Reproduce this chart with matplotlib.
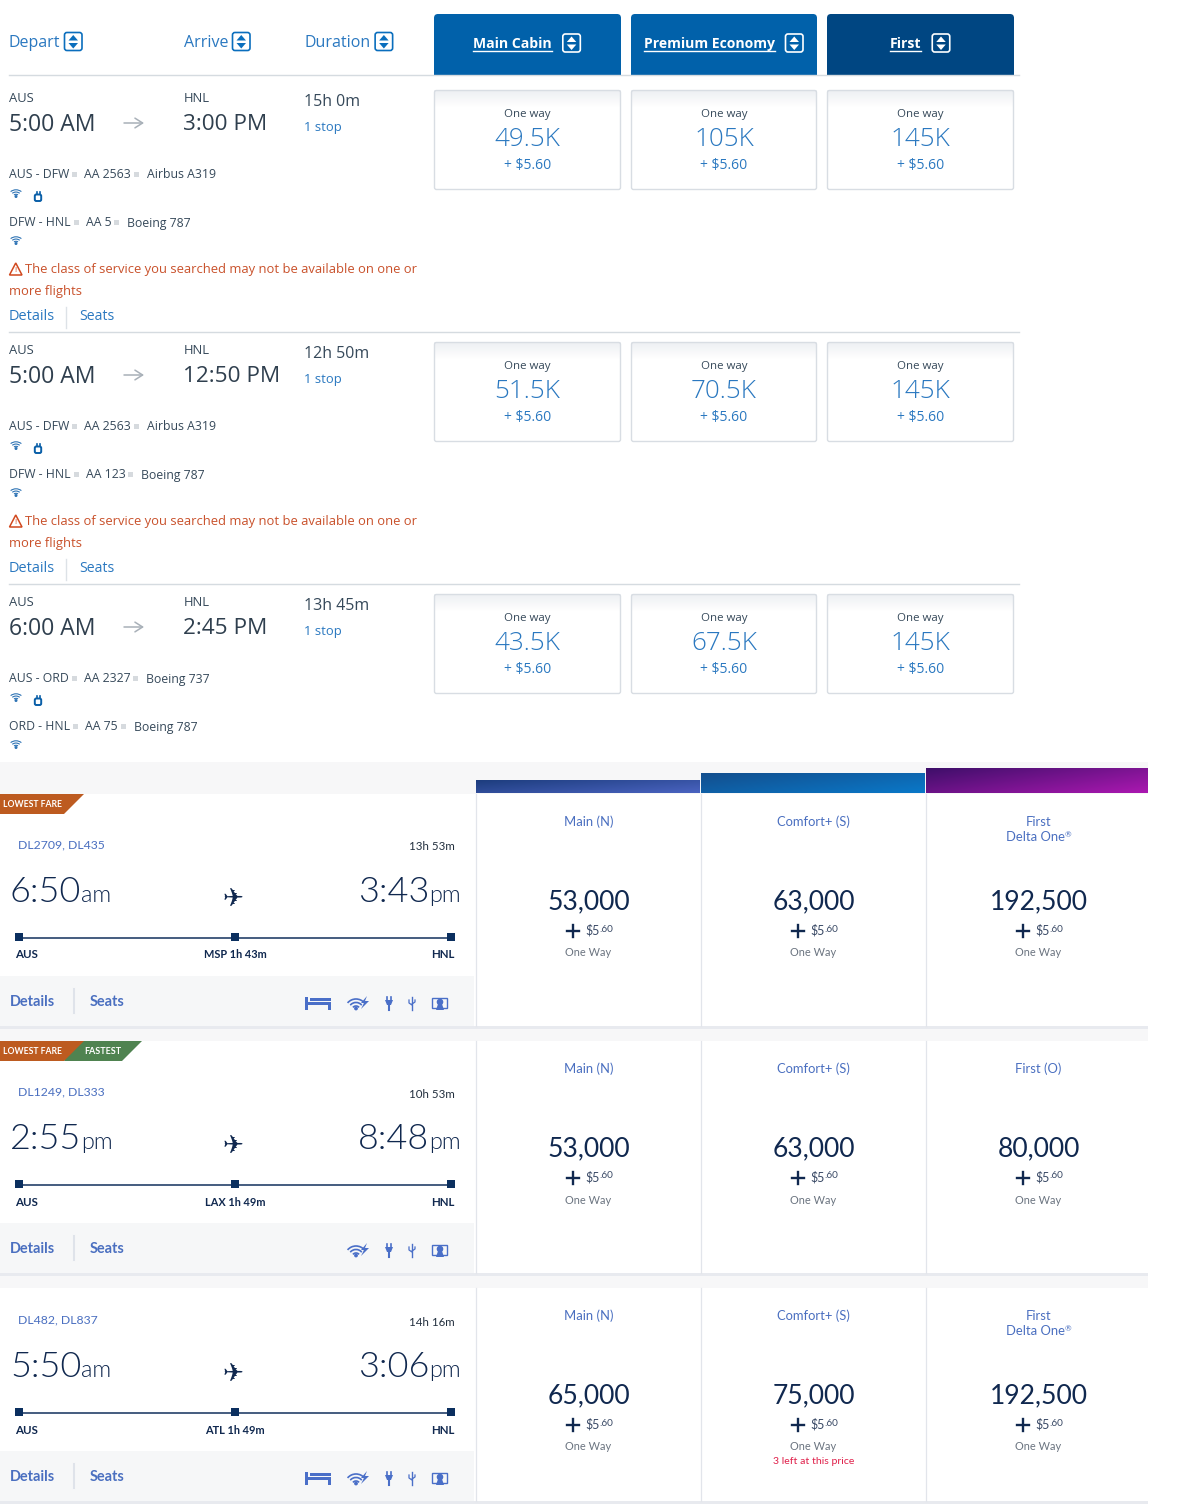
from matplotlib.patches import Rectangle, FancyBboxPatch, Polygon, Arc, Circle
import numpy as np
import matplotlib
matplotlib.use("Agg")
import matplotlib.pyplot as plt

W, H = 1190, 1512

# American section
AA_HEADERS = ["Depart", "Arrive", "Duration"]
AA_CABINS = ["Main Cabin", "Premium Economy", "First"]
AA_ORIGIN = ["AUS", "AUS", "AUS"]
AA_DEST = ["HNL", "HNL", "HNL"]
AA_DEPART = ["5:00 AM", "5:00 AM", "6:00 AM"]
AA_ARRIVE = ["3:00 PM", "12:50 PM", "2:45 PM"]
AA_DURATION = ["15h 0m", "12h 50m", "13h 45m"]
AA_STOPS = ["1 stop", "1 stop", "1 stop"]
AA_LEG1 = [
    ["AUS - DFW", "AA 2563", "Airbus A319"],
    ["AUS - DFW", "AA 2563", "Airbus A319"],
    ["AUS - ORD", "AA 2327", "Boeing 737"],
]
AA_LEG2 = [
    ["DFW - HNL", "AA 5", "Boeing 787"],
    ["DFW - HNL", "AA 123", "Boeing 787"],
    ["ORD - HNL", "AA 75", "Boeing 787"],
]
AA_MILES = [["49.5K", "105K", "145K"], ["51.5K", "70.5K", "145K"], ["43.5K", "67.5K", "145K"]]
AA_FEE = "+ $5.60"
AA_WARNING = ["The class of service you searched may not be available on one or", "more flights"]
AA_HAS_WARNING = [True, True, False]

# Delta section
DL_FLIGHTS = ["DL2709, DL435", "DL1249, DL333", "DL482, DL837"]
DL_DURATION = ["13h 53m", "10h 53m", "14h 16m"]
DL_DEPART = [("6:50", "am"), ("2:55", "pm"), ("5:50", "am")]
DL_ARRIVE = [("3:43", "pm"), ("8:48", "pm"), ("3:06", "pm")]
DL_STOP = ["MSP 1h 43m", "LAX 1h 49m", "ATL 1h 49m"]
DL_HAS_BED = [True, False, True]
DL_BADGES = [["LOWEST FARE"], ["LOWEST FARE", "FASTEST"], []]
DL_CABIN = [
    ["Main (N)", "Comfort+ (S)", "First\nDelta One®"],
    ["Main (N)", "Comfort+ (S)", "First (O)"],
    ["Main (N)", "Comfort+ (S)", "First\nDelta One®"],
]
DL_MILES = [
    ["53,000", "63,000", "192,500"],
    ["53,000", "63,000", "80,000"],
    ["65,000", "75,000", "192,500"],
]

AA_FONT = "Open Sans"
DL_FONT = "Lato"
BLUE = "#0a6ebd"
GREY_TXT = "#36495a"
DL_NAVY = "#10284f"
DL_BLUE = "#4a6fc0"

fig = plt.figure(figsize=(W / 100, H / 100), dpi=100)
ax = fig.add_axes([0, 0, 1, 1])
renderer = fig.canvas.get_renderer()


def txt(x, y, s, px, color=GREY_TXT, font=AA_FONT, ha="left", va="center", **kw):
    return ax.text(x, y, s, fontsize=px * 0.72, color=color, family=font, ha=ha, va=va, **kw)


def extent(t):
    bb = t.get_window_extent(renderer)
    return bb.x0, bb.x1


def rect(x, y, w, h, color, z=1):
    ax.add_patch(Rectangle((x, y), w, h, facecolor=color, edgecolor="none", zorder=z))


def gradient(x0, x1, y0, y1, c0, c1, z=2, diagonal=True):
    gx, gy = np.meshgrid(np.linspace(0, 1, 64), np.linspace(0, 1, 16))
    t = (0.6 * gx + 0.4 * gy)[..., None] if diagonal else gy[..., None]
    c0 = np.array(matplotlib.colors.to_rgb(c0))
    c1 = np.array(matplotlib.colors.to_rgb(c1))
    ax.imshow(c0 + (c1 - c0) * t, extent=(x0, x1, y1, y0), aspect="auto", zorder=z, interpolation="bilinear")


def sort_icon(x, y, edge, fill):
    ax.add_patch(FancyBboxPatch((x + 1, y + 1), 17.5, 18, boxstyle="round,pad=0,rounding_size=2.5",
                                facecolor=fill, edgecolor=edge, linewidth=1.2, zorder=4))
    ax.add_patch(Polygon([(x + 5, y + 9), (x + 14.5, y + 9), (x + 9.75, y + 3.5)], color=edge, zorder=5, lw=0))
    ax.add_patch(Polygon([(x + 5, y + 11.5), (x + 14.5, y + 11.5), (x + 9.75, y + 17)], color=edge, zorder=5, lw=0))


def wifi(x, y, color="#2f74b5"):
    for d in (16, 11, 6):
        ax.add_patch(Arc((x, y + 7), d, d * 0.9, theta1=225, theta2=315, color=color, lw=0.8, zorder=4))
    ax.add_patch(Circle((x, y + 6.5), 0.8, color=color, zorder=4))


def plug(x, y, color="#0a5fa8"):
    ax.add_patch(FancyBboxPatch((x - 3.2, y - 2.5), 6.4, 6.5, boxstyle="round,pad=0,rounding_size=1.5",
                                facecolor="white", edgecolor=color, linewidth=1.4, zorder=4))
    ax.plot([x - 1.5, x - 1.5], [y - 5, y - 3], color=color, lw=1.2, zorder=4)
    ax.plot([x + 1.5, x + 1.5], [y - 5, y - 3], color=color, lw=1.2, zorder=4)


def leg_line(y, parts):
    x = 9
    for i, part in enumerate(parts):
        t = txt(x, y + 4.5, part, 12.3, GREY_TXT, va="baseline")
        x1 = extent(t)[1]
        if i < len(parts) - 1:
            rect(x1 + 3, y - 2, 5, 5, "#d6dade")
            x = x1 + 15 + i


def draw_aa():
    for label, x in zip(AA_HEADERS, (9, 184, 305)):
        t = txt(x, 43, label, 16, "#2a78c0")
        sort_icon(extent(t)[1] + 3, 31.5, BLUE, "white")

    tabs = [(434, 621, "#0161aa"), (631, 817, "#0161aa"), (827, 1014, "#004682")]
    for (x0, x1, c), name in zip(tabs, AA_CABINS):
        ax.add_patch(FancyBboxPatch((x0, 14), x1 - x0, 70, boxstyle="round,pad=0,rounding_size=4",
                                    facecolor=c, edgecolor="none", zorder=2))
        cx = (x0 + x1) / 2
        t = txt(cx - 15, 44, name, 14, "white", ha="center", weight="bold")
        a, b = extent(t)
        ax.plot([a, b], [51, 51], color="white", lw=1, zorder=5)
        sort_icon(b + 10, 33, "white", c)
    rect(434, 74.5, 600, 12, "white", 3)
    ax.plot([9, 1019], [74.5, 74.5], color="#d5dbe0", lw=1, zorder=4)

    for i in range(3):
        dy = 252 * i
        txt(9, 99 + dy, AA_ORIGIN[i], 13)
        txt(184, 99 + dy, AA_DEST[i], 13)
        txt(9, 125 + dy, AA_DEPART[i], 23, "#2f3f4e")
        txt(183, 125 + dy, AA_ARRIVE[i], 22.5, "#2f3f4e")
        ax.annotate("", xy=(144, 123 + dy), xytext=(124, 123 + dy),
                    arrowprops=dict(arrowstyle="->,head_width=0.35,head_length=0.55", color="#a8b0b8", lw=1.1,
                                    shrinkA=0, shrinkB=0))
        txt(304, 102 + dy, AA_DURATION[i], 16)
        txt(304, 128 + dy, AA_STOPS[i], 13, "#2a78c0")

        leg_line(174 + dy, AA_LEG1[i])
        wifi(16, 190 + dy)
        plug(38, 197 + dy)
        leg_line(222 + dy, AA_LEG2[i])
        wifi(16, 237 + dy)

        if AA_HAS_WARNING[i]:
            ax.add_patch(Polygon([(9.5, 275 + dy), (22, 275 + dy), (15.75, 263 + dy)], closed=True,
                                 facecolor="none", edgecolor="#d1481e", lw=1.1, zorder=4))
            txt(15.75, 270.5 + dy, "!", 8, "#d1481e", ha="center")
            txt(25, 270 + dy, AA_WARNING[0], 13, "#c9512b")
            txt(9, 292 + dy, AA_WARNING[1], 13, "#c9512b")
            txt(9, 316 + dy, "Details", 14.5, "#2a78c0")
            ax.plot([66, 66], [307 + dy, 328 + dy], color="#dde2e7", lw=1)
            txt(79, 316 + dy, "Seats", 14, "#2a78c0")
            ax.plot([9, 1019], [331.5 + dy, 331.5 + dy], color="#d5dbe0", lw=1)

        cards = [(434, 621), (631, 817), (827, 1014)]
        for (x0, x1), miles in zip(cards, AA_MILES[i]):
            cx = (x0 + x1) / 2
            y0 = 90 + dy
            gradient(x0, x1, y0, y0 + 18, "#eef0f3", "#ffffff", z=2, diagonal=False)
            ax.add_patch(FancyBboxPatch((x0 + 0.5, y0 + 0.5), x1 - x0 - 1, 99, boxstyle="round,pad=0,rounding_size=2",
                                        facecolor="none", edgecolor="#d8dde3", lw=1, zorder=3))
            txt(cx, 114 + dy, "One way", 11.5, GREY_TXT, ha="center", zorder=4)
            txt(cx, 140 + dy, miles, 26, "#2a78c0", ha="center", weight=300)
            txt(cx, 165 + dy, AA_FEE, 14, "#2a78c0", ha="center")


def timepair(pair, y, left=None, right=None):
    if right is not None:
        s = txt(right, y + 5, pair[1], 23.5, DL_NAVY, DL_FONT, ha="right", va="baseline", weight=300)
        a = extent(s)[0]
        txt(a, y + 5, pair[0], 36, DL_NAVY, DL_FONT, ha="right", va="baseline", weight=300)
    else:
        b = txt(left, y + 5, pair[0], 36, DL_NAVY, DL_FONT, va="baseline", weight=300)
        txt(extent(b)[1], y + 5, pair[1], 23.5, DL_NAVY, DL_FONT, va="baseline", weight=300)


def footer_icons(y, has_bed):
    c = "#4a6fc8"
    if has_bed:
        rect(305, y - 4, 3, 13, c, 4)
        rect(328, y + 1, 3, 8, c, 4)
        rect(305, y + 1, 26, 3, c, 4)
        rect(310, y - 3, 21, 3, c, 4)
    for d in (22, 15, 8):
        ax.add_patch(Arc((356, y + 9), d, d, theta1=220, theta2=320, color=c, lw=1.2, zorder=4))
    ax.add_patch(Circle((356, y + 7.5), 1.2, color=c, zorder=4))
    ax.add_patch(Polygon([(367, y - 5), (361, y + 2), (364, y + 2), (361, y + 8), (369, y + 0), (365, y + 0)], color=c, lw=0, zorder=4))
    # plug
    ax.add_patch(Polygon([(385, y - 1), (393, y - 1), (391, y + 4), (387, y + 4)], color=c, lw=0, zorder=4))
    ax.plot([389, 389], [y + 4, y + 9], color=c, lw=1.5, zorder=4)
    ax.plot([387, 387], [y - 4, y - 1], color=c, lw=1.2, zorder=4)
    ax.plot([391, 391], [y - 4, y - 1], color=c, lw=1.2, zorder=4)
    # usb
    ax.plot([412, 412], [y - 4, y + 9], color=c, lw=1, zorder=4)
    ax.plot([409, 409, 412], [y - 1, y + 2, y + 4], color=c, lw=0.9, zorder=4)
    ax.plot([415, 415, 412], [y - 1, y + 1, y + 3], color=c, lw=0.9, zorder=4)
    # screen
    ax.add_patch(Rectangle((432, y - 3), 15, 10, facecolor="none", edgecolor=c, lw=1, zorder=4))
    ax.add_patch(Circle((440, y + 1), 2.6, color=c, zorder=5))
    ax.add_patch(Polygon([(436, y + 9), (444, y + 9), (442, y + 3), (438, y + 3)], color=c, lw=0, zorder=5))


def cabin_line(cx, y, line):
    if line.endswith("®"):
        t = txt(cx - 3, y, line[:-1], 13, DL_BLUE, DL_FONT, ha="center")
        txt(extent(t)[1], y - 2, "®", 8, DL_BLUE, DL_FONT)
    else:
        txt(cx, y, line, 13, DL_BLUE, DL_FONT, ha="center")


def draw_dl():
    rect(0, 762, 1148, 32, "#f7f7f8")
    gradient(476, 700, 781, 793.5, "#1d3d7e", "#4a63c0", z=3)
    gradient(701, 925, 774, 793.5, "#134f8e", "#0a78c8", z=3)
    gradient(926, 1148, 769, 793.5, "#3f0f6a", "#aa18b0", z=3)

    for y in (1026, 1273):
        rect(0, y, 1148, 15, "#f7f7f8")
    for y in (1026, 1273, 1501):
        rect(0, y, 1148, 2.5, "#e8eaef", 3)
    for x in (475, 700, 925):
        for y0, y1 in ((794, 1026), (1041, 1273), (1288, 1501)):
            ax.plot([x + 0.5, x + 0.5], [y0, y1], color="#e2e5eb", lw=0.9, zorder=3)

    left_off = [0, 247, 475]
    fare_off = [0, 247, 494]
    for i in range(3):
        dy = left_off[i]
        rect(0, 976 + dy, 474, 50, "#f6f7f8", 1)
        txt(18, 845 + dy, DL_FLIGHTS[i], 12.2, DL_BLUE, DL_FONT)
        txt(455, 847 + dy, DL_DURATION[i], 11.5, "#222f3e", DL_FONT, ha="right")
        timepair(DL_DEPART[i], 897 + dy, left=10)
        timepair(DL_ARRIVE[i], 897 + dy, right=461)
        txt(233, 899 + dy, "✈", 25, DL_NAVY, "DejaVu Sans", ha="center")

        ax.plot([19, 451], [937.5 + dy, 937.5 + dy], color="#12305c", lw=1.1, zorder=3)
        for x in (19, 235, 451):
            rect(x - 4, 933 + dy, 8, 8, "#0b2f5f", 4)
        txt(15, 955 + dy, "AUS", 11.5, DL_NAVY, DL_FONT, weight="bold")
        txt(235, 955 + dy, DL_STOP[i], 11, DL_NAVY, DL_FONT, ha="center", weight="bold")
        txt(455, 955 + dy, "HNL", 11.5, DL_NAVY, DL_FONT, ha="right", weight="bold")

        txt(10, 1002 + dy, "Details", 14.5, DL_BLUE, DL_FONT, weight="bold")
        ax.plot([74, 74], [989 + dy, 1013 + dy], color="#dfe3ea", lw=1.5, zorder=3)
        txt(90, 1002 + dy, "Seats", 14.5, DL_BLUE, DL_FONT, weight="bold")
        footer_icons(1001 + dy, DL_HAS_BED[i])

        fy = fare_off[i]
        for cx, cabin, miles in zip((588.5, 813.5, 1038.5), DL_CABIN[i], DL_MILES[i]):
            lines = cabin.split("\n")
            for k, line in enumerate(lines):
                cabin_line(cx, 822 + fy + 15 * k, line)
            txt(cx, 902 + fy, miles, 26.5, DL_NAVY, DL_FONT, ha="center")
            ax.plot([cx - 22, cx - 10], [931 + fy, 931 + fy], color=DL_NAVY, lw=1.7, zorder=4)
            ax.plot([cx - 16, cx - 16], [925 + fy, 937 + fy], color=DL_NAVY, lw=1.7, zorder=4)
            t = txt(cx - 3, 930 + fy, "$5", 12.5, "#3a4a66", DL_FONT)
            txt(extent(t)[1], 929 + fy, ".60", 10, "#3a4a66", DL_FONT)
            txt(cx, 953 + fy, "One Way", 11, "#6b7480", DL_FONT, ha="center")
    txt(813.5, 1461, "3 left at this price", 10.5, "#e0204a", DL_FONT, ha="center")

    # badges on the first two rows
    ax.add_patch(Polygon([(0, 794), (84, 794), (64, 814), (0, 814)], color="#bd5b20", lw=0, zorder=5))
    txt(3, 804.5, DL_BADGES[0][0], 8.7, "white", DL_FONT, zorder=6, weight="bold")
    ax.add_patch(Polygon([(74, 1041), (142, 1041), (122, 1061), (64, 1061)], color="#4f8350", lw=0, zorder=5))
    ax.add_patch(Polygon([(0, 1041), (84, 1041), (64, 1061), (0, 1061)], color="#bd5b20", lw=0, zorder=6))
    txt(3, 1051.5, DL_BADGES[1][0], 8.7, "white", DL_FONT, zorder=7, weight="bold")
    txt(84, 1051.5, DL_BADGES[1][1], 9, "white", DL_FONT, zorder=7, weight="bold")


ax.set_xlim(0, W)
ax.set_ylim(H, 0)
ax.axis("off")
draw_aa()
draw_dl()
ax.set_xlim(0, W)
ax.set_ylim(H, 0)
fig.savefig("out.png", dpi=100, facecolor="white")
